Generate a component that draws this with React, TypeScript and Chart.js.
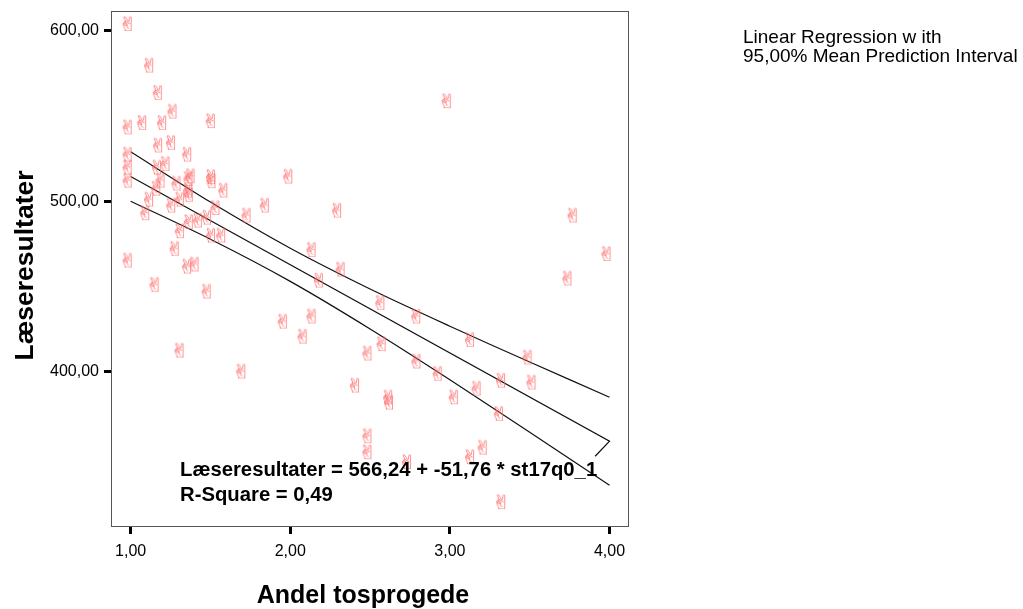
import React, { useEffect, useRef } from "react";
import { Chart, registerables } from "chart.js";

Chart.register(...registerables);

// Axis ticks
const xTickValues = [1, 2, 3, 4];
const yTickValues = [400, 500, 600];

// Scatter data
const andelTosprogede = [
  1.0, 1.135, 1.189, 1.281, 1.0, 1.091, 1.216, 1.521, 1.191, 1.271,
  1.0, 1.373, 1.0, 1.184, 1.237, 1.0, 1.206, 1.306, 1.381, 1.394,
  1.379, 1.383, 1.522, 1.525, 1.599, 2.006, 1.179, 1.134, 1.327, 1.273,
  1.55, 1.859, 1.745, 1.497, 1.44, 1.383, 1.327, 1.522, 1.586, 1.11,
  2.312, 1.295, 2.152, 1.0, 1.372, 1.419, 2.334, 1.169, 2.198, 1.495,
  1.972, 2.152, 2.096, 2.502, 1.325, 1.712, 2.424, 2.583, 2.808, 2.591,
  3.755, 3.144, 2.809, 3.505, 2.942, 3.339, 3.53, 3.186, 2.632, 2.637,
  3.043, 3.326, 2.502, 2.502, 3.224, 3.145, 2.75, 3.34, 2.999, 3.788,
  4.0,
];
const laeseresultater = [
  604.0, 579.6, 563.6, 552.6, 543.4, 546.0, 546.0, 547.0, 532.7, 534.3,
  527.4, 527.4, 519.8, 519.8, 521.9, 512.1, 512.1, 510.4, 513.1, 514.7,
  506.3, 503.8, 514.2, 511.8, 506.3, 514.5, 507.4, 501.0, 501.0, 497.5,
  496.1, 497.5, 491.6, 490.4, 488.7, 487.8, 482.5, 479.9, 479.9, 493.0,
  494.5, 472.1, 471.5, 465.2, 461.7, 462.9, 459.9, 451.0, 453.5, 447.0,
  429.4, 432.4, 420.6, 410.7, 412.4, 400.1, 391.9, 440.4, 432.4, 416.2,
  454.7, 418.7, 406.0, 408.3, 398.8, 394.8, 393.7, 390.1, 384.9, 381.9,
  385.0, 375.3, 362.2, 352.8, 355.5, 349.9, 347.0, 323.5, 558.7, 491.6,
  469.1,
];

// Regression line (with the small return hook at its end)
const fitLineX = [1.0, 4.0, 3.91];
const fitLineY = [514.5, 359.2, 350.4];

// 95% mean prediction interval bounds
const intervalX = [1.0, 1.5, 2.0, 2.5, 3.0, 3.5, 4.0];
const intervalUpper = [529.0, 499.5, 472.4, 448.5, 426.7, 405.7, 385.0];
const intervalLower = [500.0, 477.7, 453.0, 425.1, 395.3, 364.5, 333.4];

// Texts
const xAxisTitle = "Andel tosprogede";
const yAxisTitle = "Læseresultater";
const legendText = ["Linear Regression w ith", "95,00% Mean Prediction Interval"];
const equationText = ["Læseresultater = 566,24 + -51,76 * st17q0_1", "R-Square = 0,49"];

const FONT = '"Liberation Sans", Arial, sans-serif';
const fmt = (v: number) => v.toFixed(2).replace(".", ",");

function makeMarker(): HTMLCanvasElement {
  const c = document.createElement("canvas");
  c.width = 24;
  c.height = 24;
  const ctx = c.getContext("2d");
  if (!ctx) return c;
  const glyph = "\u270C";
  ctx.font = '40px "DejaVu Sans"';
  const m = ctx.measureText(glyph);
  const l = m.actualBoundingBoxLeft || 0;
  const r = m.actualBoundingBoxRight || 30;
  const a = m.actualBoundingBoxAscent || 30;
  const d = m.actualBoundingBoxDescent || 0;
  const w = l + r;
  const h = a + d;
  const sx = 9.5 / w;
  const sy = 14.5 / h;
  ctx.translate(12 - 3.5, 12);
  ctx.scale(sx, sy);
  ctx.fillStyle = "#ff6f6f";
  ctx.fillText(glyph, -(r - l) / 2, (a - d) / 2);
  return c;
}

export default function App() {
  const ref = useRef<HTMLCanvasElement>(null);

  useEffect(() => {
    const canvas = ref.current;
    if (!canvas) return;
    const marker = makeMarker();

    const overlay = {
      id: "overlay",
      afterDraw(chart: any) {
        const { ctx, chartArea: a } = chart;
        ctx.save();
        ctx.strokeStyle = "#555";
        ctx.lineWidth = 1;
        ctx.strokeRect(a.left + 0.5, a.top + 0.5, a.right - a.left - 1, a.bottom - a.top - 1);
        ctx.fillStyle = "#000";
        ctx.textAlign = "left";
        ctx.textBaseline = "alphabetic";
        ctx.font = `bold 20.3px ${FONT}`;
        ctx.fillText(equationText[0], 180, 476);
        ctx.fillText(equationText[1], 180, 501);
        ctx.font = `19px ${FONT}`;
        ctx.fillText(legendText[0], 743, 42.5);
        ctx.fillText(legendText[1], 743, 62);

        // axis titles
        ctx.textAlign = "center";
        ctx.textBaseline = "middle";
        ctx.font = `bold 25px ${FONT}`;
        ctx.fillText(xAxisTitle, 363, 596);
        ctx.save();
        ctx.translate(26, 265.5);
        ctx.rotate(-Math.PI / 2);
        ctx.font = `bold 26.5px ${FONT}`;
        ctx.fillText(yAxisTitle, 0, 0);
        ctx.restore();
        ctx.restore();
      },
    };

    const lineStyle = {
      showLine: true,
      pointRadius: 0,
      borderColor: "#111",
      borderWidth: 1.2,
      fill: false,
    };

    const chart = new Chart(canvas, {
      type: "scatter",
      data: {
        datasets: [
          {
            label: "points",
            data: andelTosprogede.map((x, i) => ({ x, y: laeseresultater[i] })),
            pointStyle: marker as any,
            pointRadius: 5,
            showLine: false,
          },
          {
            label: "upper",
            data: intervalX.map((x, i) => ({ x, y: intervalUpper[i] })),
            ...lineStyle,
            tension: 0.3,
          },
          {
            label: "fit",
            data: fitLineX.map((x, i) => ({ x, y: fitLineY[i] })),
            ...lineStyle,
            tension: 0,
          },
          {
            label: "lower",
            data: intervalX.map((x, i) => ({ x, y: intervalLower[i] })),
            ...lineStyle,
            tension: 0.3,
          },
        ],
      },
      options: {
        responsive: false,
        animation: false,
        devicePixelRatio: 1,
        events: [],
        layout: { padding: { left: 0, right: 394, top: 11, bottom: 0 } },
        plugins: {
          legend: { display: false },
          tooltip: { enabled: false },
        },
        scales: {
          x: {
            type: "linear",
            min: 0.877,
            max: 4.122,
            afterBuildTicks: (s: any) => {
              s.ticks = xTickValues.map((v) => ({ value: v }));
            },
            afterFit: (s: any) => {
              s.height = 82;
              s.paddingLeft = 0;
              s.paddingRight = 0;
            },
            ticks: {
              callback: (v: any) => fmt(Number(v)),
              font: { family: FONT, size: 16 },
              color: "#000",
              padding: 8,
              maxRotation: 0,
              autoSkip: false,
            },
            grid: {
              display: true,
              drawOnChartArea: false,
              drawTicks: true,
              tickLength: 7,
              tickWidth: 3,
              tickColor: "#000",
            },
            border: { display: false },
            title: { display: false },
          },
          y: {
            type: "linear",
            min: 308.9,
            max: 611.6,
            afterBuildTicks: (s: any) => {
              s.ticks = yTickValues.map((v) => ({ value: v }));
            },
            afterFit: (s: any) => {
              s.width = 111;
              s.paddingTop = 0;
              s.paddingBottom = 0;
            },
            ticks: {
              callback: (v: any) => fmt(Number(v)),
              font: { family: FONT, size: 16 },
              color: "#000",
              padding: 5,
              autoSkip: false,
            },
            grid: {
              display: true,
              drawOnChartArea: false,
              drawTicks: true,
              tickLength: 7,
              tickWidth: 3,
              tickColor: "#000",
            },
            border: { display: false },
            title: { display: false },
          },
        },
      } as any,
      plugins: [overlay],
    });

    return () => chart.destroy();
  }, []);

  return (
    <div style={{ position: "fixed", left: 0, top: 0, width: 1023, height: 609, background: "#fff" }}>
      <canvas ref={ref} width={1023} height={609} style={{ display: "block" }} />
    </div>
  );
}
